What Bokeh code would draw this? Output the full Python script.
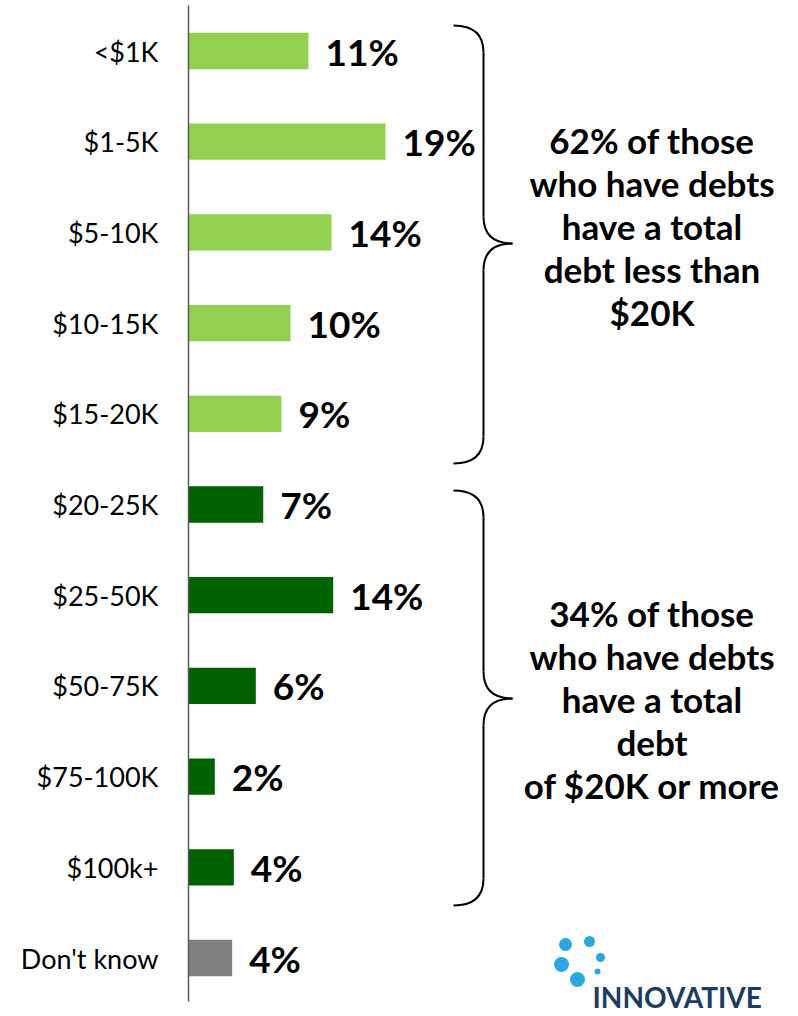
from bokeh.plotting import figure
from bokeh.models import Range1d, FixedTicker, ColumnDataSource
from bokeh.core.properties import value
from bokeh.embed import file_html
from bokeh.resources import INLINE

# ---------------- data ----------------
categories = ["<$1K", "$1-5K", "$5-10K", "$10-15K", "$15-20K",
              "$20-25K", "$25-50K", "$50-75K", "$75-100K", "$100k+",
              "Don't know"]
shares = [11.35, 18.64, 13.53, 9.65, 8.80,
          7.07, 13.69, 6.37, 2.49, 4.29,
          4.13]
share_labels = ["11%", "19%", "14%", "10%", "9%",
                "7%", "14%", "6%", "2%", "4%",
                "4%"]
debt_group = ["under", "under", "under", "under", "under",
              "over", "over", "over", "over", "over",
              "unknown"]
note_under = ["62% of those", "who have debts", "have a total",
              "debt less than", "$20K"]
note_over = ["34% of those", "who have debts", "have a total",
             "debt", "of $20K or more"]
logo_word = "INNOVATIVE"

# ---------------- layout / style ----------------
W, H = 798, 1016
LEFT = 188
PX_PER_PCT = 10.57
ROW_PX = 90.7
FIRST_ROW_PX = 50.5
group_colors = {"under": "#92D050", "over": "#006100", "unknown": "#808080"}


def px_x(img_x):
    return (img_x - LEFT) / PX_PER_PCT


def px_y(img_y):
    return (img_y - FIRST_ROW_PX) / ROW_PX


x_range = Range1d(0, (W - LEFT) / PX_PER_PCT)
y_range = Range1d(start=(H - FIRST_ROW_PX) / ROW_PX, end=-FIRST_ROW_PX / ROW_PX)

p = figure(width=W, height=H, x_range=x_range, y_range=y_range,
           output_backend="svg", toolbar_location=None,
           x_axis_location=None, y_axis_location="left",
           min_border_left=LEFT, min_border_right=0,
           min_border_top=0, min_border_bottom=0)
p.outline_line_color = None
p.xgrid.visible = False
p.ygrid.visible = False
p.background_fill_color = "white"
p.border_fill_color = "white"

rows = list(range(len(categories)))
src = ColumnDataSource(dict(
    y=rows, share=shares, label=share_labels,
    color=[group_colors[g] for g in debt_group],
))

p.hbar(y="y", left=0, right="share", height=0.40, fill_color="color",
       line_color=None, source=src)

p.text(x="share", y="y", text="label", source=src,
       x_offset=17, y_offset=0, text_align="left",
       text_baseline="middle", text_font=value("Lato"),
       text_font_style="bold", text_font_size="37px", text_color="black")

ax = p.yaxis[0]
ax.ticker = FixedTicker(ticks=rows)
ax.major_label_overrides = {i: c for i, c in zip(rows, categories)}
ax.major_tick_line_color = None
ax.minor_tick_line_color = None
ax.major_tick_in = 0
ax.major_tick_out = 0
ax.major_label_standoff = 30
ax.axis_line_color = "#595959"
ax.axis_line_width = 1.5
ax.major_label_text_font = "Lato"
ax.major_label_text_font_size = "27px"
ax.major_label_text_color = "black"
ax.bounds = (px_y(5), px_y(1001))

# ---------------- braces ----------------
brace_top = [px_y(25), px_y(490)]
brace_tip = [px_y(243), px_y(698)]
brace_bottom = [px_y(463), px_y(905)]
x_spine = px_x(483)
x_end = px_x(453)
x_tip = px_x(512)
ry = 27 / ROW_PX

qx0, qy0, qx1, qy1, qcx, qcy = [], [], [], [], [], []
sx0, sy0, sx1, sy1 = [], [], [], []
for t, m, b in zip(brace_top, brace_tip, brace_bottom):
    curves = [
        ((x_end, t), (x_spine, t + ry), (x_spine, t)),
        ((x_spine, m - ry), (x_tip, m), (x_spine, m)),
        ((x_tip, m), (x_spine, m + ry), (x_spine, m)),
        ((x_spine, b - ry), (x_end, b), (x_spine, b)),
    ]
    for (a, c, k) in curves:
        qx0.append(a[0]); qy0.append(a[1])
        qx1.append(c[0]); qy1.append(c[1])
        qcx.append(k[0]); qcy.append(k[1])
    for (y0, y1) in [(t + ry, m - ry), (m + ry, b - ry)]:
        sx0.append(x_spine); sy0.append(y0)
        sx1.append(x_spine); sy1.append(y1)

p.quadratic(x0=qx0, y0=qy0, x1=qx1, y1=qy1, cx=qcx, cy=qcy,
            line_color="black", line_width=2)
p.segment(x0=sx0, y0=sy0, x1=sx1, y1=sy1, line_color="black", line_width=2)

# ---------------- notes ----------------
note_x = px_x(651.5)
pitch = 43 / ROW_PX
for lines, first in [(note_under, px_y(139)), (note_over, px_y(612))]:
    p.text(x=[note_x] * len(lines),
           y=[first + k * pitch for k in range(len(lines))],
           text=lines, text_align="center", text_baseline="middle",
           text_font=value("Lato"), text_font_style="bold",
           text_font_size="35px", text_color="black")

# ---------------- logo ----------------
dot_px = [(565, 944, 13), (589, 941, 11), (600, 957, 9),
          (561, 964, 15), (597, 971, 6), (577, 979, 15)]
p.scatter(x=[px_x(d[0]) for d in dot_px], y=[px_y(d[1]) for d in dot_px],
          size=[d[2] for d in dot_px], marker="circle",
          fill_color="#2BA6DE", line_color=None)
p.text(x=[px_x(592)], y=[px_y(996)], text=[logo_word],
       text_align="left", text_baseline="middle",
       text_font=value("Lato"), text_font_style="bold",
       text_font_size="28px", text_color="#1D3D60")

open("out.html", "w").write(file_html(p, INLINE))
